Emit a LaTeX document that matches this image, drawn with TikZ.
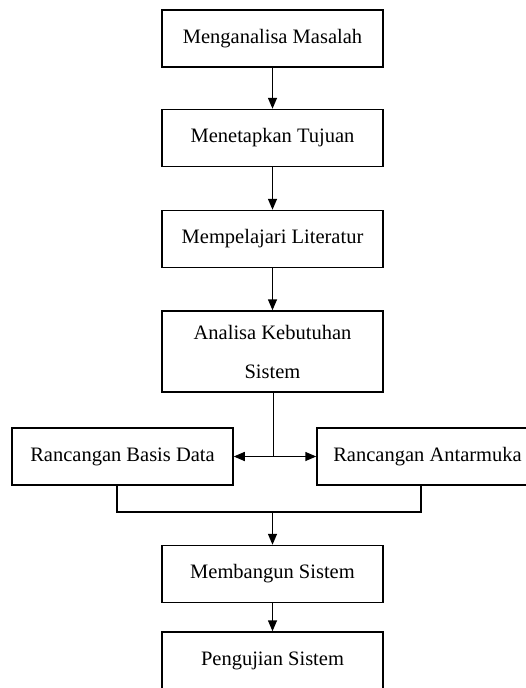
\documentclass[tikz,border=0pt]{standalone}
\usepackage{fontspec}
\setmainfont{Liberation Serif}
\usetikzlibrary{arrows.meta}

\begin{document}
\begin{tikzpicture}[x=1pt,y=-1pt,
    kotak/.style={draw, line width=1.5pt, minimum width=221pt, minimum height=57pt,
        inner sep=0pt, align=center, font=\fontsize{20.5}{39}\selectfont},
    garis/.style={line width=1.5pt},
    panah/.style={line width=1.5pt, -{Triangle[length=11pt,width=9pt]}}]
    \useasboundingbox (0,0) rectangle (526,688);

    % Alur utama
    \node[kotak] (masalah) at (272.5,38.5) {Menganalisa Masalah};
    \node[kotak] (tujuan) at (272.5,138) {Menetapkan Tujuan};
    \node[kotak] (literatur) at (272.5,239) {Mempelajari Literatur};
    \node[kotak, minimum height=81pt] (analisa) at (272.5,351.5) {Analisa Kebutuhan\\Sistem};

    \draw[panah] (masalah) -- (tujuan);
    \draw[panah] (tujuan) -- (literatur);
    \draw[panah] (literatur) -- (analisa);

    % Rancangan
    \node[kotak] (basis) at (122.5,456.5) {Rancangan Basis Data};
    \node[kotak] (antarmuka) at (427.5,456.5) {Rancangan Antarmuka};

    \coordinate (cabang) at (273.5,456.5);
    \draw[garis] (analisa.south -| cabang) -- (cabang);
    \draw[panah] (cabang) -- (basis);
    \draw[panah] (cabang) -- (antarmuka);

    % Gabung
    \coordinate (kiri) at (117,512);
    \coordinate (kanan) at (421,512);
    \coordinate (gabung) at (272.5,512);
    \draw[garis] (kiri |- basis.south) -- (kiri) -- (kanan) -- (kanan |- antarmuka.south);

    % Implementasi
    \node[kotak] (bangun) at (272.5,574) {Membangun Sistem};
    \node[kotak] (uji) at (272.5,660.5) {Pengujian Sistem};

    \draw[panah] (gabung) -- (bangun);
    \draw[panah] (bangun) -- (uji);
\end{tikzpicture}
\end{document}
